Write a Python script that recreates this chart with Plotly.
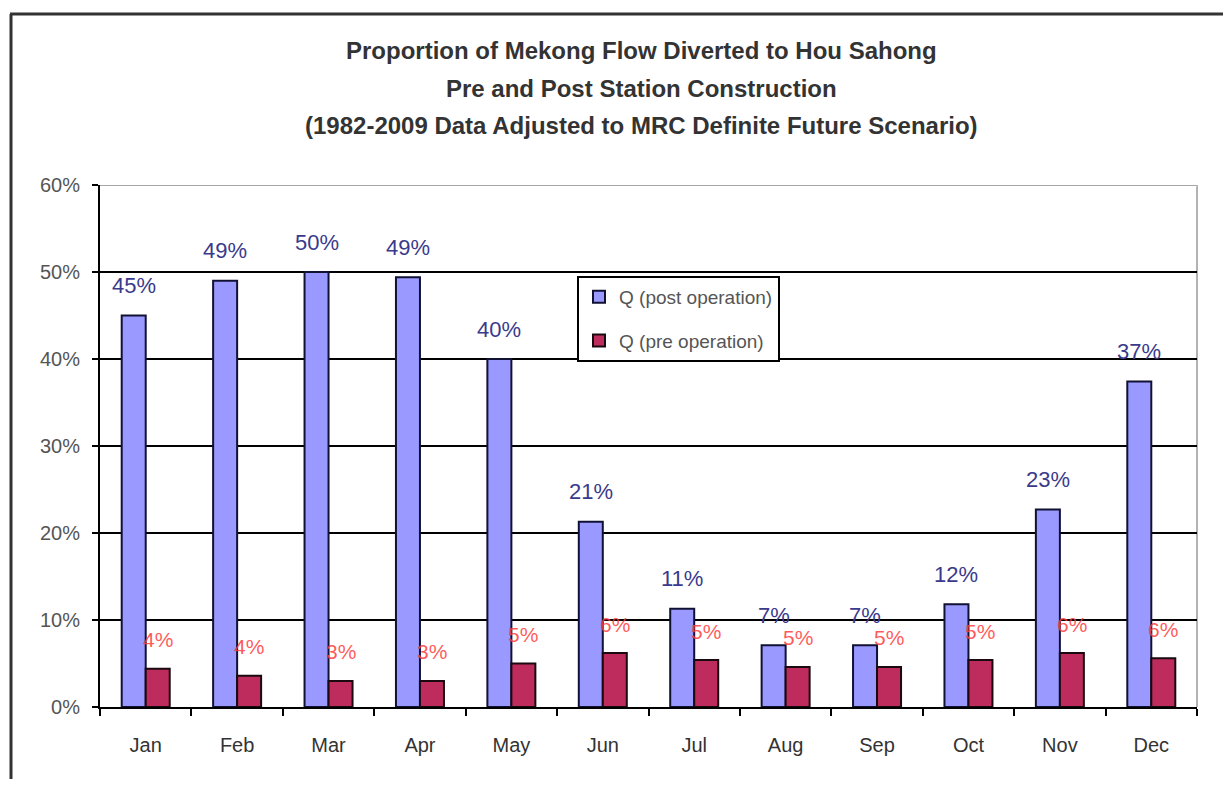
import plotly.graph_objects as go

months = ["Jan", "Feb", "Mar", "Apr", "May", "Jun", "Jul", "Aug", "Sep", "Oct", "Nov", "Dec"]
post_operation = [45.0, 49.0, 50.0, 49.4, 40.0, 21.3, 11.3, 7.1, 7.1, 11.8, 22.7, 37.4]
pre_operation = [4.4, 3.6, 3.0, 3.0, 5.0, 6.2, 5.4, 4.6, 4.6, 5.4, 6.2, 5.6]
y_ticks = [0, 0.1, 0.2, 0.3, 0.4, 0.5, 0.6]
title_lines = [
    "Proportion of Mekong Flow Diverted to Hou Sahong",
    "Pre and Post Station Construction",
    "(1982-2009 Data Adjusted to MRC Definite Future Scenario)",
]

FONT = "Liberation Sans, Arial, sans-serif"
OFF = 8  # page body margin
W, H = 1231 - 2 * OFF, 787 - 2 * OFF
# target plot area in screen pixels: x 100..1197, y 185..707
ML = 100 - OFF
MT = 185 - OFF
MR = W - (1197 - OFF)
MB = H - (707 - OFF)
PW = W - ML - MR
PH = H - MT - MB


def px_to_paper_x(px):
    return (px - OFF - ML) / PW


def px_to_paper_y(py):
    return (MT + PH - (py - OFF)) / PH


post_frac = [v / 100 for v in post_operation]
pre_frac = [v / 100 for v in pre_operation]

fig = go.Figure()
fig.add_trace(go.Bar(
    x=months, y=post_frac, name="Q (post operation)",
    marker=dict(color="#9999FF", line=dict(color="#111133", width=2)),
    legendgroup="a",
))
fig.add_trace(go.Bar(
    x=months, y=pre_frac, name="Q (pre operation)",
    marker=dict(color="#BE2C5E", line=dict(color="#1a0a10", width=2)),
    legendgroup="b",
))

annotations = []
for m, v in zip(months, post_frac):
    annotations.append(dict(
        x=m, y=v, xref="x", yref="y", text=f"{round(v * 100):.0f}%",
        showarrow=False, xshift=-12, yshift=30, yanchor="middle",
        font=dict(family=FONT, size=22, color="#3A3A8C"),
    ))
for m, v in zip(months, pre_frac):
    annotations.append(dict(
        x=m, y=v, xref="x", yref="y", text=f"{round(v * 100):.0f}%",
        showarrow=False, xshift=12, yshift=29, yanchor="middle",
        font=dict(family=FONT, size=21, color="rgba(255,60,60,0.85)"),
    ))
for line, yc in zip(title_lines, [50, 88, 126]):
    annotations.append(dict(
        x=px_to_paper_x(641), y=px_to_paper_y(yc), xref="paper", yref="paper",
        text=f"<b>{line}</b>", showarrow=False, xanchor="center", yanchor="middle",
        font=dict(family=FONT, size=24, color="#333333"),
    ))

shapes = [
    dict(type="line", xref="paper", yref="y", x0=0, x1=1, y0=0.6, y1=0.6,
         line=dict(color="white", width=3), layer="above"),
    dict(type="line", xref="paper", yref="y", x0=0, x1=1, y0=0.6, y1=0.6,
         line=dict(color="#888888", width=1.5), layer="above"),
    dict(type="line", xref="paper", yref="paper", x0=1, x1=1, y0=0, y1=1,
         line=dict(color="#999999", width=1.5), layer="below"),
    dict(type="line", xref="paper", yref="paper",
         x0=px_to_paper_x(11), x1=px_to_paper_x(11),
         y0=px_to_paper_y(14), y1=px_to_paper_y(820),
         line=dict(color="#333333", width=3)),
    dict(type="line", xref="paper", yref="paper",
         x0=px_to_paper_x(10), x1=px_to_paper_x(1260),
         y0=px_to_paper_y(14), y1=px_to_paper_y(14),
         line=dict(color="#333333", width=3)),
]

fig.update_layout(
    width=W, height=H,
    margin=dict(l=ML, r=MR, t=MT, b=MB, pad=0),
    paper_bgcolor="white", plot_bgcolor="white",
    barmode="group", bargap=0.475, bargroupgap=0,
    font=dict(family=FONT, color="#333333"),
    showlegend=True,
    legend=dict(
        x=px_to_paper_x(577), y=px_to_paper_y(276), xanchor="left", yanchor="top",
        bgcolor="white", bordercolor="black", borderwidth=2,
        font=dict(family=FONT, size=19, color="#555555"),
        tracegroupgap=16, itemwidth=30,
    ),
    annotations=annotations,
    shapes=shapes,
)
fig.update_xaxes(
    showline=True, linecolor="black", linewidth=2,
    ticks="outside", tickson="boundaries", ticklen=7, tickcolor="black", tickwidth=2,
    tickfont=dict(family=FONT, size=20, color="#333333"),
    ticklabelstandoff=19, showgrid=False,
)
fig.update_yaxes(
    range=[0, 0.6], tickvals=y_ticks, tickformat=".0%",
    showline=True, linecolor="black", linewidth=2,
    ticks="outside", ticklen=6, tickcolor="black", tickwidth=2,
    showgrid=True, gridcolor="black", gridwidth=2, zeroline=False,
    tickfont=dict(family=FONT, size=20, color="#555555"),
    ticklabelstandoff=8,
)

fig.write_html("out.html")
